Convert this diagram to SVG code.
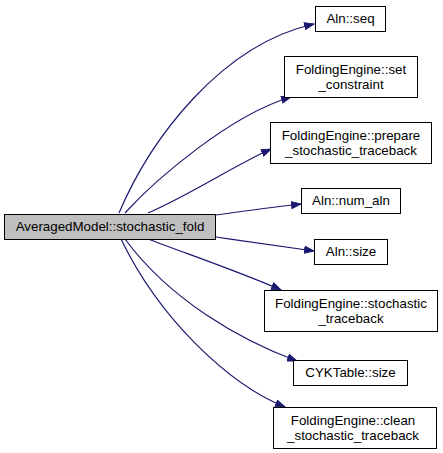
<svg xmlns="http://www.w3.org/2000/svg" width="443" height="453" viewBox="0 0 443 453">
<defs>
<marker id="ah" markerWidth="11" markerHeight="8" refX="10" refY="4" orient="auto" markerUnits="userSpaceOnUse">
<path d="M0.5,0.5 L10,4 L0.5,7.5 Z" fill="#191970" stroke="#191970"/>
</marker>
<style>
.n rect{fill:#fff;stroke:#000;stroke-width:1}
.n text{font-family:"Liberation Sans",Arial,sans-serif;font-size:13.33px;fill:#000;text-anchor:middle}
.e path{fill:none;stroke:#191970;stroke-width:1.2;marker-end:url(#ah)}
</style>
</defs>
<rect width="443" height="453" fill="#fff"/>
<g class="e" id="edges">
<path d="M119,213 C150,140 220,45 314,24"/>
<path d="M125,213 C155,180 230,115 291,97"/>
<path d="M148,213 C190,195 235,165 271,149"/>
<path d="M216,215 C245,211 275,207 301,204"/>
<path d="M216,237 C250,242 285,247 314,251"/>
<path d="M148,239 C190,255 240,272 281,290"/>
<path d="M125,239 C170,300 240,340 297,361"/>
<path d="M121,239 C160,320 230,385 285,407"/>
</g>
<g class="n" id="main"><rect x="4.5" y="214.5" width="211" height="25" style="fill:#bfbfbf"/><text x="110" y="231">AveragedModel::stochastic_fold</text></g>
<g class="n" id="alnseq"><rect x="315.5" y="6.5" width="70" height="25"/><text x="350.5" y="23">Aln::seq</text></g>
<g class="n" id="setc"><rect x="284.5" y="56.5" width="133" height="41"/><text x="351" y="74">FoldingEngine::set</text><text x="351" y="88.5">_constraint</text></g>
<g class="n" id="prep"><rect x="270.5" y="122.5" width="161" height="41"/><text x="351" y="140">FoldingEngine::prepare</text><text x="351" y="154.5">_stochastic_traceback</text></g>
<g class="n" id="numaln"><rect x="301.5" y="188.5" width="99" height="25"/><text x="351" y="205">Aln::num_aln</text></g>
<g class="n" id="alnsize"><rect x="314.5" y="239.5" width="73" height="25"/><text x="351" y="256">Aln::size</text></g>
<g class="n" id="stoch"><rect x="264.5" y="290.5" width="173" height="41"/><text x="351" y="308">FoldingEngine::stochastic</text><text x="351" y="322.5">_traceback</text></g>
<g class="n" id="cyk"><rect x="293.5" y="360.5" width="114" height="25"/><text x="350.5" y="377">CYKTable::size</text></g>
<g class="n" id="clean"><rect x="273.5" y="407.5" width="163" height="41"/><text x="353" y="425">FoldingEngine::clean</text><text x="353" y="439.5">_stochastic_traceback</text></g>
</svg>
